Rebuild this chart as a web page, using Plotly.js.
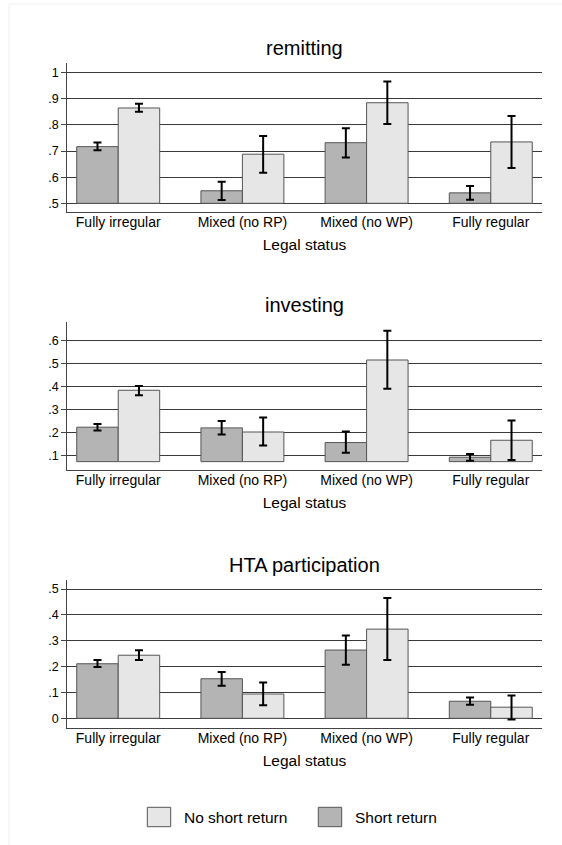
<!DOCTYPE html>
<html>
<head>
<meta charset="utf-8">
<script src="https://cdn.plot.ly/plotly-3.0.1.min.js"></script>
<style>html,body{margin:0;padding:0;background:#fff;}#chart{width:562px;height:845px;}</style>
</head>
<body>
<div id="chart"></div>
<script>
// ---- data ----
const categories = ["Fully irregular", "Mixed (no RP)", "Mixed (no WP)", "Fully regular"];
const seriesNames = ["Short return", "No short return"];
const panelTitles = ["remitting", "investing", "HTA participation"];
const xAxisTitle = "Legal status";

// remitting
const remitShort = [0.717, 0.548, 0.732, 0.540];
const remitShortLo = [0.703, 0.513, 0.675, 0.514];
const remitShortHi = [0.733, 0.583, 0.787, 0.566];
const remitNo = [0.865, 0.688, 0.885, 0.735];
const remitNoLo = [0.851, 0.617, 0.804, 0.635];
const remitNoHi = [0.881, 0.758, 0.966, 0.834];

// investing
const investShort = [0.224, 0.221, 0.157, 0.093];
const investShortLo = [0.210, 0.192, 0.112, 0.078];
const investShortHi = [0.238, 0.251, 0.205, 0.107];
const investNo = [0.385, 0.203, 0.517, 0.167];
const investNoLo = [0.363, 0.144, 0.392, 0.081];
const investNoHi = [0.404, 0.266, 0.645, 0.253];

// HTA participation
const htaShort = [0.211, 0.153, 0.264, 0.066];
const htaShortLo = [0.198, 0.126, 0.207, 0.052];
const htaShortHi = [0.226, 0.179, 0.320, 0.080];
const htaNo = [0.244, 0.094, 0.345, 0.043];
const htaNoLo = [0.226, 0.050, 0.226, -0.005];
const htaNoHi = [0.263, 0.138, 0.465, 0.088];

// y ticks
const remitTicks = [0.5, 0.6, 0.7, 0.8, 0.9, 1];
const remitTickText = [".5", ".6", ".7", ".8", ".9", "1"];
const investTicks = [0.1, 0.2, 0.3, 0.4, 0.5, 0.6];
const investTickText = [".1", ".2", ".3", ".4", ".5", ".6"];
const htaTicks = [0, 0.1, 0.2, 0.3, 0.4, 0.5];
const htaTickText = ["0", ".1", ".2", ".3", ".4", ".5"];

// ---- layout helpers ----
const W = 562, H = 845;
const FONT = "Liberation Sans, Arial, Helvetica, sans-serif";
const darkFill = "#b4b4b4", lightFill = "#e6e6e6", barLine = "#555555";
const gridCol = "#3a3a3a", axisCol = "#444444";
const py = p => 1 - p / H;
const pxX = p => p / W;

const panels = [
  {title: panelTitles[0], s: remitShort, sLo: remitShortLo, sHi: remitShortHi, n: remitNo, nLo: remitNoLo, nHi: remitNoHi,
   base: 0.5, range: [0.4656, 1.036], tv: remitTicks, tt: remitTickText, top: 63.3, bot: 212.3, titleY: 48.3},
  {title: panelTitles[1], s: investShort, sLo: investShortLo, sHi: investShortHi, n: investNo, nLo: investNoLo, nHi: investNoHi,
   base: 0.0738, range: [0.036, 0.684], tv: investTicks, tt: investTickText, top: 321.7, bot: 470.3, titleY: 305},
  {title: panelTitles[2], s: htaShort, sLo: htaShortLo, sHi: htaShortHi, n: htaNo, nLo: htaNoLo, nHi: htaNoHi,
   base: 0, range: [-0.0387, 0.535], tv: htaTicks, tt: htaTickText, top: 580, bot: 728.3, titleY: 565}
];

const traces = [];
const layout = {
  width: W, height: H,
  margin: {l: 0, r: 0, t: 0, b: 0},
  paper_bgcolor: "#ffffff", plot_bgcolor: "#ffffff",
  barmode: "group", bargap: 0.332, bargroupgap: 0,
  showlegend: false,
  font: {family: FONT, color: "#000"},
  annotations: [], shapes: []
};

const xDomain = [67.3 / W, 541.7 / W];

panels.forEach((p, i) => {
  const k = i === 0 ? "" : String(i + 1);
  const xa = "x" + k, ya = "y" + k;
  const series = [
    {name: seriesNames[0], v: p.s, lo: p.sLo, hi: p.sHi, fill: darkFill},
    {name: seriesNames[1], v: p.n, lo: p.nLo, hi: p.nHi, fill: lightFill}
  ];
  series.forEach(sr => {
    traces.push({
      type: "bar", name: sr.name, x: categories,
      y: sr.v.map(v => v - p.base), base: p.base,
      xaxis: xa, yaxis: ya,
      marker: {color: sr.fill, line: {color: barLine, width: 1}},
      error_y: {type: "data", symmetric: false,
        array: sr.hi.map((h, j) => h - sr.v[j]),
        arrayminus: sr.lo.map((l, j) => sr.v[j] - l),
        color: "#000", thickness: 2, width: 4},
      hoverinfo: "skip"
    });
  });
  layout["xaxis" + k] = {
    domain: xDomain, anchor: ya, type: "category",
    categoryorder: "array", categoryarray: categories,
    range: [-0.41, 3.41], showgrid: false, zeroline: false,
    showline: true, linecolor: axisCol, linewidth: 1,
    ticks: "", ticklabelstandoff: -3,
    tickfont: {family: FONT, size: 14, color: "#000"},
    title: {text: xAxisTitle, font: {family: FONT, size: 15.5, color: "#000"}, standoff: 10},
    fixedrange: true
  };
  layout["yaxis" + k] = {
    domain: [py(p.bot), py(p.top)], anchor: xa,
    range: p.range, tickmode: "array", tickvals: p.tv, ticktext: p.tt,
    showgrid: true, gridcolor: gridCol, gridwidth: 1, zeroline: false,
    showline: true, linecolor: axisCol, linewidth: 1,
    ticks: "outside", ticklen: 5, tickcolor: axisCol, tickwidth: 1,
    tickfont: {family: FONT, size: 12.5, color: "#000"},
    fixedrange: true
  };
  layout.annotations.push({
    text: p.title, xref: "paper", yref: "paper",
    x: (67.3 + 541.7) / 2 / W, y: py(p.titleY), xanchor: "center", yanchor: "middle",
    showarrow: false, font: {family: FONT, size: 20, color: "#000"}
  });
});

// outer faint frame
layout.shapes.push({type: "rect", xref: "paper", yref: "paper", x0: pxX(9), x1: pxX(600), y0: py(900), y1: py(4),
  line: {color: "#eeeeee", width: 1}, fillcolor: "rgba(0,0,0,0)", layer: "below"});

// legend (drawn)
const legendItems = [
  {label: seriesNames[1], fill: lightFill, bx: 147.3, tx: 181.7},
  {label: seriesNames[0], fill: darkFill, bx: 318.3, tx: 352.7}
];
legendItems.forEach(it => {
  layout.shapes.push({type: "rect", xref: "paper", yref: "paper",
    x0: pxX(it.bx), x1: pxX(it.bx + 23.4), y0: py(826.7), y1: py(807.3),
    line: {color: barLine, width: 1}, fillcolor: it.fill});
  layout.annotations.push({text: it.label, xref: "paper", yref: "paper",
    x: pxX(it.tx), y: py(817), xanchor: "left", yanchor: "middle", showarrow: false,
    font: {family: FONT, size: 15.5, color: "#000"}});
});

Plotly.newPlot("chart", traces, layout, {staticPlot: true, displayModeBar: false});
</script>
</body>
</html>
